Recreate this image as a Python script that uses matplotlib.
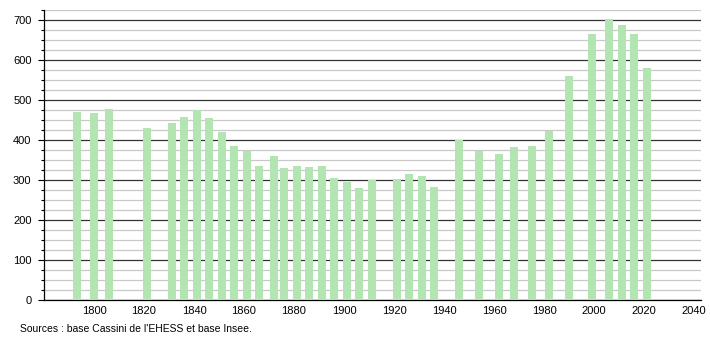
import numpy as np
import matplotlib
matplotlib.use('Agg')
import matplotlib.pyplot as plt
from matplotlib.ticker import MultipleLocator

years = [1793, 1800, 1806, 1821, 1831, 1836, 1841, 1846, 1851, 1856,
         1861, 1866, 1872, 1876, 1881, 1886, 1891, 1896, 1901, 1906,
         1911, 1921, 1926, 1931, 1936, 1946, 1954, 1962, 1968, 1975,
         1982, 1990, 1999, 2006, 2011, 2016, 2021]
population = [470, 468, 478, 430, 443, 458, 475, 455, 420, 385,
              373, 335, 360, 330, 335, 332, 335, 305, 295, 280,
              299, 302, 315, 310, 282, 400, 373, 365, 382, 385,
              423, 560, 665, 702, 687, 665, 580]
xticks = [1800, 1820, 1840, 1860, 1880, 1900, 1920, 1940, 1960, 1980, 2000, 2020, 2040]
source = "Sources : base Cassini de l'EHESS et base Insee."

plt.rcParams['font.family'] = ['Liberation Sans', 'DejaVu Sans']

fig = plt.figure(figsize=(7.1, 3.4), dpi=100)
ax = fig.add_axes([44 / 710, 40 / 340, 657 / 710, 290 / 340])

ax.bar(years, population, width=3.2, color='#b3e5b3', zorder=3)

ax.set_xlim(1780, 2042.8)
ax.set_ylim(0, 725)
ax.set_xticks(xticks)
ax.yaxis.set_major_locator(MultipleLocator(100))
ax.yaxis.set_minor_locator(MultipleLocator(25))
ax.grid(axis='y', which='major', color='#333333', linewidth=0.9, zorder=1)
ax.grid(axis='y', which='minor', color='#c8c8c8', linewidth=0.9, zorder=1)

for s in ['top', 'right']:
    ax.spines[s].set_visible(False)
ax.spines['left'].set_linewidth(0.9)
ax.spines['bottom'].set_linewidth(0.9)
ax.tick_params(axis='x', length=0, labelsize=8, pad=4)
ax.tick_params(axis='y', which='major', length=4, width=0.8, labelsize=8, pad=5)
ax.tick_params(axis='y', which='minor', length=2, width=0.8)

fig.text(20 / 710, 1 - 329 / 340, source, fontsize=7.5, va='center', ha='left')

fig.savefig('out.png', dpi=100)
